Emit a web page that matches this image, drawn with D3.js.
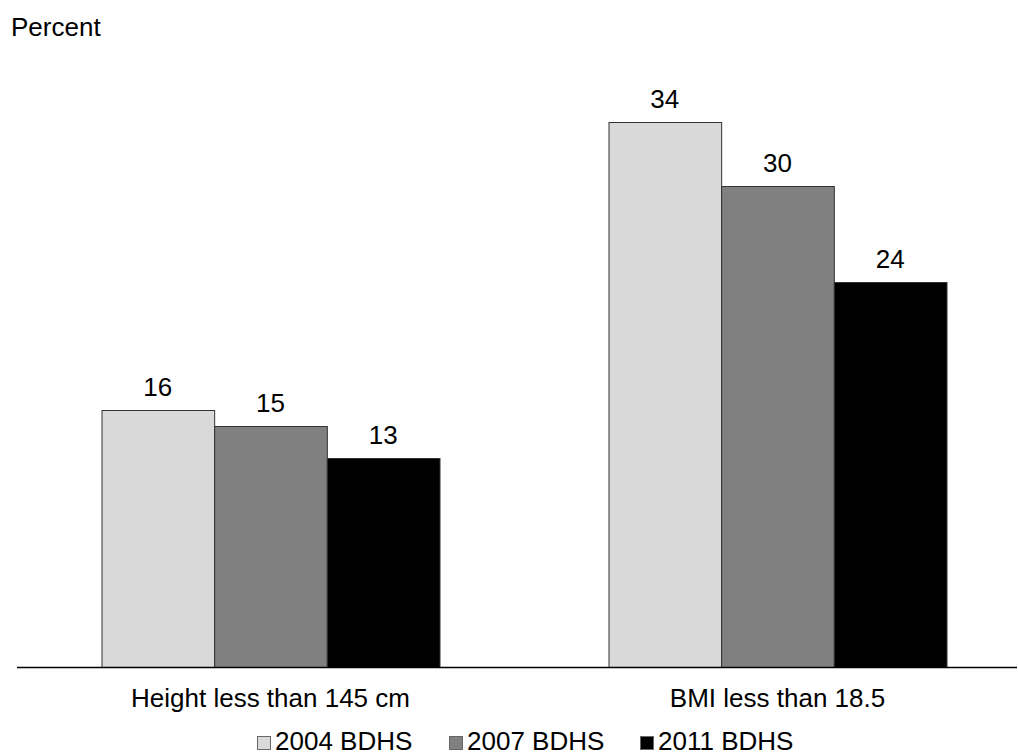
<!DOCTYPE html>
<html>
<head>
<meta charset="utf-8">
<script src="https://cdn.jsdelivr.net/npm/d3@7"></script>
<style>
  html, body { margin: 0; padding: 0; background: #fff; }
  svg { display: block; font-family: "Liberation Sans", Arial, sans-serif; }
</style>
</head>
<body>
<svg id="chart" width="1018" height="756"></svg>
<script>
const categories = ["Height less than 145 cm", "BMI less than 18.5"];
const seriesNames = ["2004 BDHS", "2007 BDHS", "2011 BDHS"];
const values2004 = [16, 34];
const values2007 = [15, 30];
const values2011 = [13, 24];
const seriesColors = ["#d9d9d9", "#808080", "#000000"];

const seriesValues = [values2004, values2007, values2011];
const data = categories.map((c, i) => ({
  category: c,
  values: seriesNames.map((s, j) => ({ series: s, value: seriesValues[j][i], idx: j }))
}));

const svg = d3.select("#chart");
const baseline = 667;
const fontSize = 26;

const x0 = d3.scaleBand().domain(categories).range([17, 1031]).paddingInner(1/3).paddingOuter(1/6);
const x1 = d3.scaleBand().domain(seriesNames).range([0, x0.bandwidth()]).padding(0);
const y = d3.scaleLinear().domain([0, 34]).range([baseline, 121.5]);

// y axis title
svg.append("text").attr("x", 11).attr("y", 36)
  .attr("font-size", fontSize).attr("fill", "#000").text("Percent");

const groups = svg.selectAll("g.grp").data(data).enter().append("g")
  .attr("class", "grp")
  .attr("transform", d => `translate(${x0(d.category)},0)`);

groups.selectAll("rect").data(d => d.values).enter().append("rect")
  .attr("x", d => x1(d.series) + 0.5)
  .attr("y", d => Math.round(y(d.value)) + 0.5)
  .attr("width", x1.bandwidth())
  .attr("height", d => baseline - Math.round(y(d.value)))
  .attr("fill", d => seriesColors[d.idx])
  .attr("stroke", "#333")
  .attr("stroke-width", 1);

groups.selectAll("text.val").data(d => d.values).enter().append("text")
  .attr("class", "val")
  .attr("x", d => x1(d.series) + x1.bandwidth() / 2)
  .attr("y", d => y(d.value) - 14)
  .attr("text-anchor", "middle")
  .attr("font-size", fontSize)
  .attr("fill", "#000")
  .text(d => d.value);

// x axis
const xAxis = d3.axisBottom(x0).tickSize(0).tickPadding(0);
const axisG = svg.append("g").attr("transform", `translate(0,${baseline})`).call(xAxis);
axisG.select(".domain").remove();
axisG.append("line").attr("x1", 17).attr("x2", 1017).attr("y1", 0.5).attr("y2", 0.5)
  .attr("stroke", "#000").attr("stroke-width", 1.5);
axisG.selectAll(".tick text")
  .attr("font-size", fontSize)
  .attr("font-family", "Liberation Sans, Arial, sans-serif")
  .attr("fill", "#000")
  .attr("dy", null)
  .attr("y", 707 - baseline);

// legend
const legendX = [257, 449, 640];
const legend = svg.selectAll("g.leg").data(seriesNames).enter().append("g")
  .attr("class", "leg")
  .attr("transform", (d, i) => `translate(${legendX[i]},0)`);
legend.append("rect").attr("x", 0.5).attr("y", 736.5).attr("width", 13).attr("height", 13)
  .attr("fill", (d, i) => seriesColors[i]).attr("stroke", "#666").attr("stroke-width", 1);
legend.append("text").attr("x", 18).attr("y", 750)
  .attr("font-size", fontSize).attr("fill", "#000").text(d => d);
</script>
</body>
</html>
